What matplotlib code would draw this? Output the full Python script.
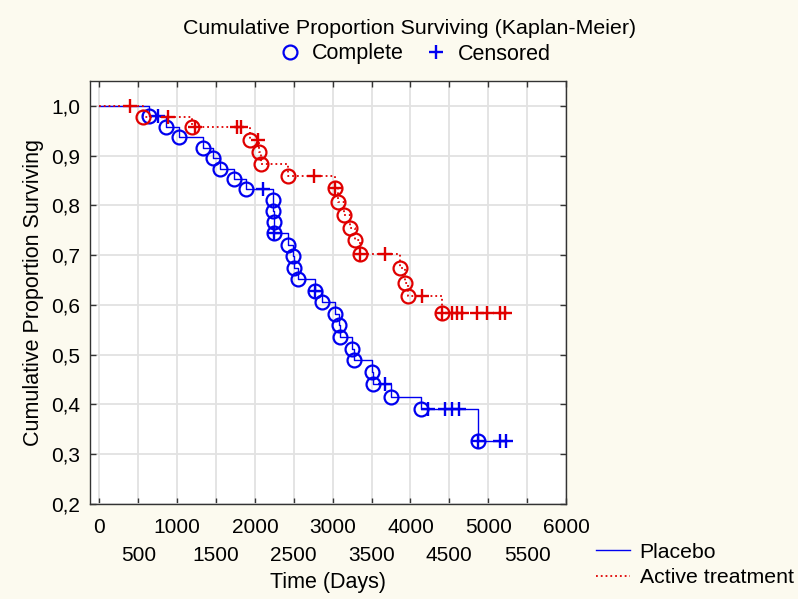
import matplotlib
matplotlib.use('Agg')
import matplotlib.pyplot as plt
from matplotlib.lines import Line2D
import numpy as np

plt.rcParams['font.family'] = ['Liberation Sans', 'DejaVu Sans']

# ---------------- data ----------------
title = 'Cumulative Proportion Surviving (Kaplan-Meier)'
x_label = 'Time (Days)'
y_label = 'Cumulative Proportion Surviving'
series_names = ['Placebo', 'Active treatment']

placebo_event_t = [643, 857, 1028, 1329, 1465, 1551, 1725, 1880, 2229, 2238, 2244, 2250,
                   2421, 2490, 2500, 2558, 2773, 2858, 3029, 3080, 3090, 3244, 3274,
                   3501, 3514, 3745, 4130, 4864]
placebo_event_s = [0.979, 0.958, 0.937, 0.916, 0.895, 0.874, 0.853, 0.832, 0.810, 0.788,
                   0.766, 0.744, 0.721, 0.698, 0.675, 0.653, 0.629, 0.606, 0.582, 0.559,
                   0.536, 0.512, 0.489, 0.466, 0.441, 0.416, 0.391, 0.326]
placebo_cens_t = [760, 2108, 2250, 2773, 3672, 4229, 4443, 4529, 4627, 4864, 5150, 5227]

active_event_t = [566, 1188, 1937, 2050, 2080, 2429, 3030, 3072, 3140, 3222, 3286, 3345,
                  3865, 3935, 3972, 4410]
active_event_s = [0.978, 0.957, 0.932, 0.907, 0.884, 0.859, 0.834, 0.807, 0.781, 0.755,
                  0.731, 0.702, 0.674, 0.645, 0.617, 0.584]
active_cens_t = [395, 887, 1225, 1766, 1817, 2040, 2760, 3030, 3345, 3672, 4144, 4410,
                 4529, 4594, 4658, 4851, 4987, 5150, 5215]

x_ticks_row1 = [0, 1000, 2000, 3000, 4000, 5000, 6000]
x_ticks_row2 = [500, 1500, 2500, 3500, 4500, 5500]
y_ticks = [0.2, 0.3, 0.4, 0.5, 0.6, 0.7, 0.8, 0.9, 1.0]
y_tick_labels = ['0,2', '0,3', '0,4', '0,5', '0,6', '0,7', '0,8', '0,9', '1,0']

# ---------------- style ----------------
BG = '#FCFAEF'
BLUE = '#0000F0'
RED = '#E00000'
FS = 15


def surv_at(t, et, es):
    s = 1.0
    for tt, ss in zip(et, es):
        if tt <= t:
            s = ss
    return s


def step_curve(et, es, ct):
    times = sorted(set(list(et) + list(ct)))
    xs = [0] + times
    ys = [1.0] + [surv_at(t, et, es) for t in times]
    return xs, ys


fig = plt.figure(figsize=(7.98, 5.99), dpi=100, facecolor=BG)
ax = fig.add_axes([0.1128, 0.1586, 0.5965, 0.7062])
ax.set_facecolor('white')

for et, es, ct, col, ls, lw in [
        (placebo_event_t, placebo_event_s, placebo_cens_t, BLUE, '-', 1.0),
        (active_event_t, active_event_s, active_cens_t, RED, ':', 1.3)]:
    xs, ys = step_curve(et, es, ct)
    ax.plot(xs, ys, drawstyle='steps-post', color=col, ls=ls, lw=lw, zorder=3)
    ax.plot(et, es, ls='none', marker='o', ms=10, mfc='none', mec=col, mew=1.6, zorder=4)
    cs = [surv_at(t, et, es) for t in ct]
    ax.plot(ct, cs, ls='none', marker='+', ms=10.5, mec=col, mew=1.7, zorder=4)

ax.set_xlim(-120, 6000)
ax.set_ylim(0.2, 1.05)
ax.set_xticks(x_ticks_row1)
ax.set_xticklabels([str(v) for v in x_ticks_row1], fontsize=FS)
ax.set_xticks(x_ticks_row2, minor=True)
ax.set_xticklabels([str(v) for v in x_ticks_row2], minor=True, fontsize=FS)
ax.set_yticks(y_ticks)
ax.set_yticklabels(y_tick_labels, fontsize=FS)
ax.tick_params(which='both', direction='in', top=True, right=True, length=4, width=1,
               color='#333333')
ax.tick_params(axis='x', which='major', pad=10)
ax.tick_params(axis='x', which='minor', pad=30)
ax.tick_params(axis='y', pad=7)
ax.grid(True, which='both', axis='x', color='#E2E2E2', lw=1.3, zorder=0)
ax.grid(True, which='major', axis='y', color='#E2E2E2', lw=1.3, zorder=0)
ax.set_axisbelow(True)
for sp in ax.spines.values():
    sp.set_color('#333333')
    sp.set_linewidth(1.0)

ax.set_xlabel(x_label, fontsize=15.5, labelpad=5)
ax.set_ylabel(y_label, fontsize=15.5, labelpad=5)

fig.text(0.513, 1 - 28 / 599, title, ha='center', va='center', fontsize=15.4)

h1 = Line2D([], [], ls='none', marker='o', ms=10, mfc='none', mec=BLUE, mew=1.6)
h2 = Line2D([], [], ls='none', marker='+', ms=10.5, mec=BLUE, mew=1.7)
fig.legend([h1, h2], ['Complete', 'Censored'], loc='center',
           bbox_to_anchor=(0.52, 1 - 54 / 599), ncol=2, frameon=False,
           fontsize=15.5, handlelength=1.0, handletextpad=0.5, columnspacing=1.0)

h3 = Line2D([], [], color=BLUE, lw=1.0, ls='-')
h4 = Line2D([], [], color=RED, lw=1.3, ls=':')
fig.legend([h3, h4], series_names, loc='center left',
           bbox_to_anchor=(577 / 798, 1 - 565 / 599), frameon=False,
           fontsize=15.3, handlelength=1.6, handletextpad=0.45, labelspacing=0.3)

fig.savefig('out.png', dpi=100, facecolor=BG)
